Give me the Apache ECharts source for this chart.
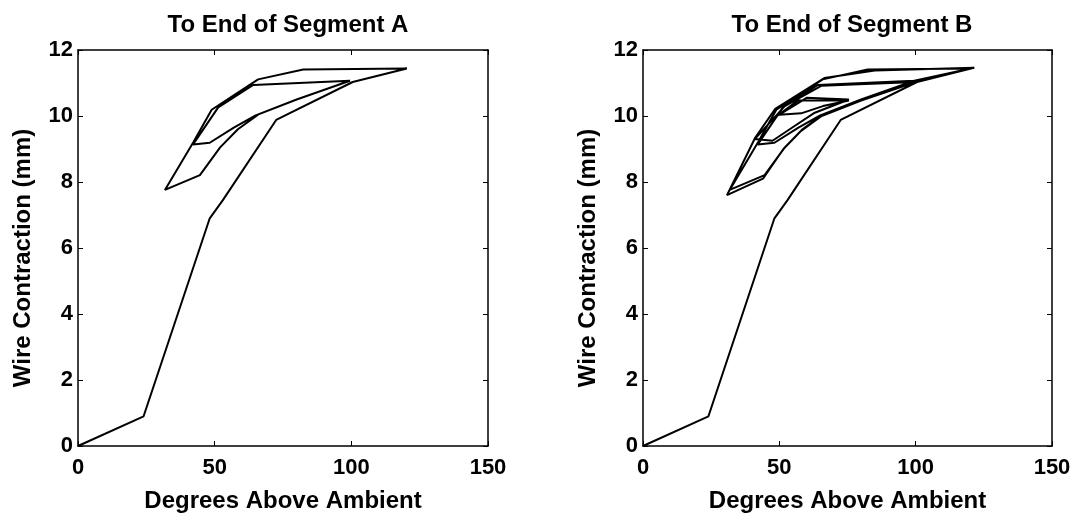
<!DOCTYPE html>
<html>
<head>
<meta charset="utf-8">
<script src="https://cdn.jsdelivr.net/npm/echarts@6/dist/echarts.min.js"></script>
<style>
  html, body { margin: 0; padding: 0; background: #fff; }
  #diagram { width: 1079px; height: 518px; }
</style>
</head>
<body>
<div id="diagram"></div>
<script>
// Segment A: first heat up, then cool / reheat cycles
var segA_deg = [0, 24, 48.2, 53, 72.5, 100.5, 120.3, 82.4, 65.9, 48.9, 42.3, 31.8, 44.6, 52, 58.5, 66, 80, 99.5, 64.1, 51.3, 42.1, 48.2, 57, 65, 80, 99.5];
var segA_mm = [0, 0.9, 6.9, 7.45, 9.88, 11.03, 11.44, 11.41, 11.11, 10.19, 9.22, 7.76, 8.21, 9.05, 9.6, 10.05, 10.5, 11.07, 10.94, 10.26, 9.14, 9.19, 9.65, 10.02, 10.5, 11.07];
// Segment B: continues on from the end of segment A
var segB_deg = [121.5, 85, 66.5, 48.5, 41, 30.8, 44, 51.5, 58, 65.5, 80, 100, 65.5, 52, 41, 47.5, 56, 63, 75.5, 60, 50, 58, 66, 75.5, 57, 49.5];
var segB_mm = [11.46, 11.38, 11.15, 10.22, 9.32, 7.6, 8.1, 9.0, 9.55, 10.0, 10.47, 11.03, 10.92, 10.3, 9.3, 9.25, 9.72, 10.1, 10.5, 10.55, 10.04, 10.08, 10.3, 10.47, 10.48, 10.02];

var xTicks = [0, 50, 100, 150];
var yTicks = [0, 2, 4, 6, 8, 10, 12];
var titles = ["To End of Segment A", "To End of Segment B"];
var xName = "Degrees Above Ambient";
var yName = "Wire Contraction (mm)";

function pairs(xs, ys) {
  return xs.map(function (x, i) { return [x, ys[i]]; });
}
var dataA = pairs(segA_deg, segA_mm);
var dataAB = dataA.concat(pairs(segB_deg, segB_mm));

var font = "'Liberation Sans', Arial, Helvetica, sans-serif";
var lineCol = "#000";

function xAx(grid, main) {
  return {
    type: "value", gridIndex: grid, position: main ? "bottom" : "top",
    min: xTicks[0], max: xTicks[xTicks.length - 1], interval: 50,
    name: main ? xName : "", nameLocation: "middle", nameGap: 43,
    nameTextStyle: { color: "#000", fontFamily: font, fontSize: 24, fontWeight: "bold" },
    axisLine: { show: true, onZero: false, lineStyle: { color: lineCol, width: 1.5 } },
    axisTick: { show: true, inside: true, length: 5, lineStyle: { color: lineCol, width: 1 } },
    axisLabel: { show: main, color: "#000", fontFamily: font, fontSize: 22, fontWeight: "bold", margin: 11 },
    splitLine: { show: false }
  };
}
function yAx(grid, main) {
  return {
    type: "value", gridIndex: grid, position: main ? "left" : "right",
    min: yTicks[0], max: yTicks[yTicks.length - 1], interval: 2,
    name: main ? yName : "", nameLocation: "middle", nameGap: 43,
    nameTextStyle: { color: "#000", fontFamily: font, fontSize: 24, fontWeight: "bold", padding: [0, 20, 0, 0] },
    axisLine: { show: true, onZero: false, lineStyle: { color: lineCol, width: 1.5 } },
    axisTick: { show: true, inside: true, length: 5, lineStyle: { color: lineCol, width: 1 } },
    axisLabel: { show: main, color: "#000", fontFamily: font, fontSize: 22, fontWeight: "bold", margin: 5 },
    splitLine: { show: false }
  };
}

var myChart = echarts.init(document.getElementById("diagram"));
var option = {
  backgroundColor: "#fff",
  animation: false,
  title: [
    { text: titles[0], left: 283, top: 8, textAlign: "center",
      textStyle: { color: "#000", fontFamily: font, fontSize: 24, fontWeight: "bold" } },
    { text: titles[1], left: 847, top: 8, textAlign: "center",
      textStyle: { color: "#000", fontFamily: font, fontSize: 24, fontWeight: "bold" } }
  ],
  grid: [
    { left: 78, right: 591, top: 50, bottom: 67 },
    { left: 643, right: 27, top: 50, bottom: 67 }
  ],
  xAxis: [xAx(0, true), xAx(0, false), xAx(1, true), xAx(1, false)],
  yAxis: [yAx(0, true), yAx(0, false), yAx(1, true), yAx(1, false)],
  series: [
    {
      name: titles[0], type: "line", xAxisIndex: 0, yAxisIndex: 0,
      data: dataA, symbol: "none", smooth: false,
      lineStyle: { color: lineCol, width: 2 }
    },
    {
      name: titles[1], type: "line", xAxisIndex: 2, yAxisIndex: 2,
      data: dataAB, symbol: "none", smooth: false,
      lineStyle: { color: lineCol, width: 2 }
    }
  ]
};
myChart.setOption(option);
</script>
</body>
</html>
